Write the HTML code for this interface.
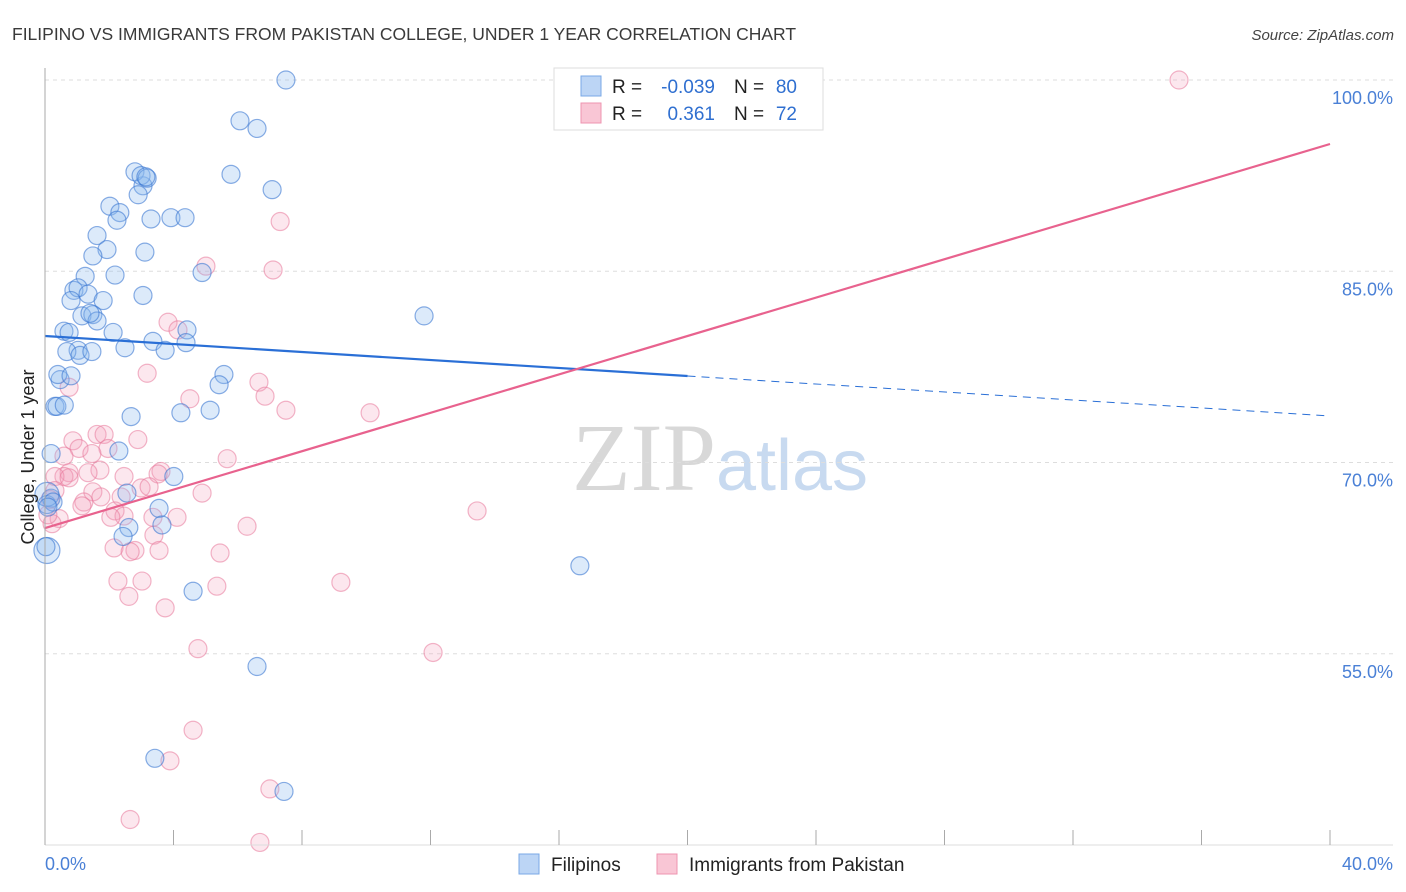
<!DOCTYPE html>
<html><head><meta charset="utf-8"><style>
body{margin:0;background:#fff;font-family:"Liberation Sans",sans-serif}
svg{display:block}
</style></head><body>
<svg id="chart" width="1406" height="892" xmlns="http://www.w3.org/2000/svg">
<text x="12" y="40" font-size="17.5" fill="#3a3a3a">FILIPINO VS IMMIGRANTS FROM PAKISTAN COLLEGE, UNDER 1 YEAR CORRELATION CHART</text>
<text x="1394" y="40" font-size="15" fill="#444" text-anchor="end" font-style="italic">Source: ZipAtlas.com</text>
<text x="720" y="490" font-size="96" text-anchor="middle" font-family="Liberation Serif" fill="#ddd"><tspan fill="#d8d8d8">ZIP</tspan><tspan fill="#c8daf0" font-family="Liberation Sans" font-size="72">atlas</tspan></text>
<g id="grid"></g><g id="marks"></g><g id="axes"></g>
<text transform="translate(34,457) rotate(-90)" font-size="18" fill="#222" text-anchor="middle">College, Under 1 year</text>
<g>
<rect x="554" y="68" width="269" height="62" fill="#fff" stroke="#ddd"/>
<rect x="581" y="76" width="20" height="20" fill="#bcd5f5" stroke="#7aa8e6"/>
<rect x="581" y="103" width="20" height="20" fill="#f9c6d5" stroke="#ee94b0"/>
<text x="612" y="93" font-size="19" fill="#222">R =</text>
<text x="715" y="93" font-size="19" fill="#2f6fd0" text-anchor="end">-0.039</text>
<text x="734" y="93" font-size="19" fill="#222">N =</text>
<text x="797" y="93" font-size="19" fill="#2f6fd0" text-anchor="end">80</text>
<text x="612" y="120" font-size="19" fill="#222">R =</text>
<text x="715" y="120" font-size="19" fill="#2f6fd0" text-anchor="end">0.361</text>
<text x="734" y="120" font-size="19" fill="#222">N =</text>
<text x="797" y="120" font-size="19" fill="#2f6fd0" text-anchor="end">72</text>
</g>
<g>
<rect x="519" y="854" width="20" height="20" fill="#bcd5f5" stroke="#7aa8e6"/>
<text x="551" y="871" font-size="19" fill="#222">Filipinos</text>
<rect x="657" y="854" width="20" height="20" fill="#f9c6d5" stroke="#ee94b0"/>
<text x="689" y="871" font-size="19" fill="#222">Immigrants from Pakistan</text>
</g>
</svg>
<script>
const xTicks=[0,40];
const yTicks=[55,70,85,100];
const blueX=[7.5,6.07,6.6,5.79,7.07,3.05,2.8,2.99,3.18,3.14,2.9,2.02,2.33,2.24,3.3,3.92,4.36,1.62,1.93,1.49,3.11,1.25,2.18,4.89,0.9,1.03,1.34,1.81,0.81,3.05,1.15,1.49,1.62,0.59,0.75,2.12,4.42,3.36,1.03,0.68,1.09,1.46,2.49,3.74,4.39,11.8,0.47,0.4,0.81,5.57,5.42,0.31,0.37,2.68,4.23,5.14,0.19,2.3,4.01,3.55,2.55,3.64,2.61,2.43,0.19,0.06,0.06,4.61,16.65,6.6,3.42,7.44,0.06,0.25,0.09,0.03,1.4,0.6];
const blueY=[100,96.8,96.2,92.6,91.4,91.7,92.8,92.5,92.3,92.4,91.0,90.1,89.6,89.0,89.1,89.2,89.2,87.8,86.7,86.2,86.5,84.6,84.7,84.9,83.5,83.7,83.2,82.7,82.7,83.1,81.5,81.6,81.1,80.3,80.2,80.2,80.4,79.5,78.8,78.7,78.4,78.7,79.0,78.8,79.4,81.5,76.5,76.9,76.8,76.9,76.1,74.4,74.4,73.6,73.9,74.1,70.7,70.9,68.9,66.4,67.6,65.1,64.9,64.2,67.2,66.7,63.1,59.9,61.9,54.0,46.8,44.2,67.5,66.9,66.5,63.4,81.7,74.5];
const blueR=[9,9,9,9,9,9,9,9,9,9,9,9,9,9,9,9,9,9,9,9,9,9,9,9,9,9,9,9,9,9,9,9,9,9,9,9,9,9,9,9,9,9,9,9,9,9,9,9,9,9,9,9,9,9,9,9,9,9,9,9,9,9,9,9,9,9,13,9,9,9,9,9,12,9,9,9,9,9];
const pinkX=[35.3,16.37,7.32,5.01,7.1,3.83,4.14,4.51,3.18,0.75,6.66,6.85,7.5,10.12,1.62,1.84,0.87,2.89,1.06,1.96,0.59,1.46,1.71,1.34,0.75,0.59,3.61,3.52,5.67,0.31,2.46,2.99,3.24,1.49,1.21,2.37,4.89,1.15,1.74,2.18,2.46,2.05,3.36,4.11,0.44,6.29,3.39,0.22,2.15,2.8,3.55,5.45,2.65,13.45,2.27,3.02,2.61,5.35,9.21,3.74,4.76,12.08,4.61,3.89,2.65,7.0,6.69,0.09,0.31,0.16,0.75];
const pinkY=[100,96.9,88.9,85.4,85.1,81.0,80.4,75.0,77.0,75.9,76.3,75.2,74.1,73.9,72.2,72.2,71.7,71.8,71.1,71.1,70.5,70.7,69.4,69.2,69.2,68.9,69.3,69.1,70.3,68.9,68.9,68.0,68.1,67.7,66.9,67.3,67.6,66.6,67.3,66.2,65.8,65.7,65.7,65.7,65.6,65.0,64.3,65.2,63.3,63.1,63.1,62.9,63.0,66.2,60.7,60.7,59.5,60.3,60.6,58.6,55.4,55.1,49.0,46.6,42.0,44.4,40.2,65.9,67.8,67.1,68.8];
const X0=45, X1=1330, Y0=80, Y1=845;
const xs=v=>X0+(v/40)*(X1-X0);
const ys=v=>Y0+(100-v)/60*(Y1-Y0);
const NS="http://www.w3.org/2000/svg";
function mk(t,a,p){const e=document.createElementNS(NS,t);for(const k in a)e.setAttribute(k,a[k]);p.appendChild(e);return e;}
const grid=document.getElementById('grid'),marks=document.getElementById('marks'),axes=document.getElementById('axes');
yTicks.forEach(t=>{
 const l=mk('line',{x1:X0,x2:1393,y1:ys(t),y2:ys(t),stroke:'#ddd','stroke-dasharray':'4,4'},grid);
 
 
 const tx=mk('text',{x:1393,y:ys(t)+24,'font-size':18,fill:'#4a80d6','text-anchor':'end'},axes);
 tx.textContent=t.toFixed(1)+'%';
 
 
});
const ax=mk('line',{x1:X0,x2:X0,y1:68,y2:845,stroke:'#aaa'},axes);


const bx=mk('line',{x1:X0,x2:1393,y1:845,y2:845,stroke:'#ddd'},axes);


for(let i=0;i<=10;i++){
 const t=mk('line',{x1:xs(i*4),x2:xs(i*4),y1:830,y2:845,stroke:'#aaa'},axes);
 
 
}
xTicks.forEach((t,i)=>{
 const tx=mk('text',{x:i==0?X0:1393,y:870,'font-size':18,fill:'#4a80d6','text-anchor':i==0?'start':'end'},axes);
 tx.textContent=t.toFixed(1)+'%';
 
 
});
pinkX.forEach((v,i)=>{
 const c=mk('circle',{cx:xs(v),cy:ys(pinkY[i]),r:9,fill:'rgba(244,160,186,0.25)',stroke:'rgba(232,120,155,0.55)','stroke-width':1.2},marks);
 
 
});
blueX.forEach((v,i)=>{
 const c=mk('circle',{cx:xs(v),cy:ys(blueY[i]),r:blueR[i],fill:'rgba(140,185,240,0.3)',stroke:'rgba(60,120,210,0.6)','stroke-width':1.2},marks);
 
 
});
const blueTrend=[79.92,73.65], pinkTrend=[64.86,94.98];
const bmid=blueTrend[0]+(blueTrend[1]-blueTrend[0])*0.5;
let l=mk('line',{x1:xs(0),y1:ys(blueTrend[0]),x2:xs(20),y2:ys(bmid),stroke:'#2a6fd6','stroke-width':2.2},marks);


l=mk('line',{x1:xs(20),y1:ys(bmid),x2:xs(40),y2:ys(blueTrend[1]),stroke:'#2a6fd6','stroke-width':1,'stroke-dasharray':'8,6'},marks);


l=mk('line',{x1:xs(0),y1:ys(pinkTrend[0]),x2:xs(40),y2:ys(pinkTrend[1]),stroke:'#e8628e','stroke-width':2.2},marks);


</script>
</body></html>
